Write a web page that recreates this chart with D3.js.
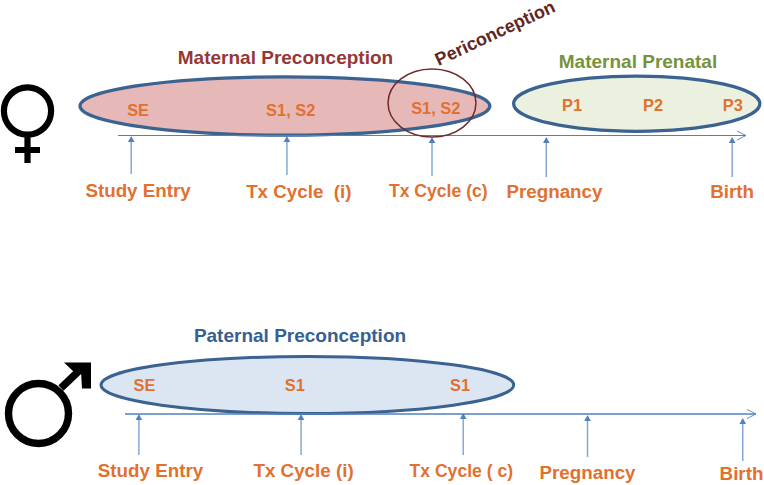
<!DOCTYPE html>
<html><head><meta charset="utf-8">
<script src="https://cdn.jsdelivr.net/npm/d3@7"></script>
<style>html,body{margin:0;padding:0;background:#fff}svg{display:block}text{font-family:"Liberation Sans",Arial,sans-serif;font-weight:bold}</style>
</head><body><svg id="c" width="764" height="485"></svg>
<script>
// Timeline positions are in percent of each axis
const maternalEvents = ["Study Entry","Tx Cycle  (i)","Tx Cycle (c)","Pregnancy","Birth"];
const maternalEventPos = [2.1,26.9,50,68.2,97.8];
const maternalLabelPos = [3.2,28.8,51,69.5,97.8];
const paternalEvents = ["Study Entry","Tx Cycle (i)","Tx Cycle ( c)","Pregnancy","Birth"];
const paternalEventPos = [2.2,27.9,53.6,73.3,97.9];
const paternalLabelPos = [4.04,28.3,53.3,73.3,97.7];
const periodNames = ["Maternal Preconception","Maternal Prenatal","Paternal Preconception"];
const periodStart = [-6.05,63,-3.8];
const periodEnd = [59.2,102.2,61.6];
const periconStart = 43, periconEnd = 57;
const maternalInner = ["SE","S1, S2","S1, S2","P1","P2","P3"];
const maternalInnerPos = [3.2,27.5,50.6,72.3,85.2,97.9];
const paternalInner = ["SE","S1","S1"];
const paternalInnerPos = [3.1,26.9,53.1];

const svg = d3.select("#c");
const xM = d3.scaleLinear().domain([0,100]).range([118,746]);
const xP = d3.scaleLinear().domain([0,100]).range([125,756]);
const ORANGE="#e2702f", BLUE="#7da2d0", DARK="#4f81bd", EDGE="#3b6391";
const labelSize = s => s.includes("(c)") || s.includes("( c)") ? 17.6 : 18.8;

function oval(x,a,b,cy,ry,fill,stroke,sw){
  svg.append("ellipse").attr("cx",(x(a)+x(b))/2).attr("cy",cy).attr("rx",(x(b)-x(a))/2).attr("ry",ry)
    .attr("fill",fill).attr("stroke",stroke).attr("stroke-width",sw);
}
function txt(x,y,s,size,color){
  return svg.append("text").attr("x",x).attr("y",y).attr("text-anchor","middle").attr("font-size",size).attr("fill",color).style("white-space","pre").text(s);
}
function timeline(x,y0,axisW,tops,bottoms,events,pos,labelPos,labelY,innerNames,innerPos,innerY){
  svg.append("line").attr("x1",x(0)).attr("x2",x(100)).attr("y1",y0).attr("y2",y0).attr("stroke",DARK).attr("stroke-width",axisW);
  svg.append("path").attr("d",d3.line()([[x(100)-9,y0-4.5],[x(100),y0],[x(100)-9,y0+4.5]])).attr("fill","none").attr("stroke",DARK).attr("stroke-width",0.9);
  pos.forEach((p,i)=>{
    const px=x(p);
    svg.append("line").attr("x1",px).attr("x2",px).attr("y1",bottoms[i]).attr("y2",tops[i]+5).attr("stroke",BLUE).attr("stroke-width",1.4);
    svg.append("path").attr("d",d3.line()([[px,tops[i]],[px-3.3,tops[i]+6],[px+3.3,tops[i]+6]])+"Z").attr("fill",DARK);
    txt(x(labelPos[i]),labelY[i],events[i],labelSize(events[i]),ORANGE);
  });
  innerNames.forEach((n,i)=>txt(x(innerPos[i]),innerY[i],n,16.4,ORANGE));
}

// Maternal
oval(xM,periodStart[0],periodEnd[0],106,29.2,"#e6b8b7",EDGE,3.3);
oval(xM,periodStart[1],periodEnd[1],103.7,27.6,"#ebf1de",EDGE,3.3);
timeline(xM,135.5,1.1,[136,136,137,137,137],[174,175,176,177,177],maternalEvents,maternalEventPos,maternalLabelPos,[197,198,197,198,198],maternalInner,maternalInnerPos,[116,116,114,111,111,111]);
oval(xM,periconStart,periconEnd,103,34,"none","#6e2a2e",1.5);
txt(285.5,64,periodNames[0],19,"#953735");
txt(638,68,periodNames[1],19,"#76923c");
txt(0,0,"Periconception",18,"#632523").attr("transform","translate(497.5,38.5) rotate(-25)");

// Paternal
oval(xP,periodStart[2],periodEnd[2],385,28.5,"#dce6f2",EDGE,3);
timeline(xP,414,1.6,[414,414,413,415,418],[455,455,455,457,461],paternalEvents,paternalEventPos,paternalLabelPos,[477,477,477,479,480],paternalInner,paternalInnerPos,[391,391,391]);
txt(300,342,periodNames[2],19,"#366092");

// Gender symbols
const g=svg.append("g").attr("fill","none").attr("stroke","#000");
g.append("circle").attr("cx",27.5).attr("cy",111).attr("r",23.6).attr("stroke-width",6.2);
g.append("path").attr("d","M27.5 135V163M15 150H40").attr("stroke-width",6.2);
g.append("circle").attr("cx",38.5).attr("cy",413.5).attr("r",30).attr("stroke-width",7.4);
g.append("path").attr("d","M61 388L84 366").attr("stroke-width",7.4);
svg.append("path").attr("d","M64 362.5H91V388.5H82L81 372L74 372Z").attr("fill","#000");
</script></body></html>
